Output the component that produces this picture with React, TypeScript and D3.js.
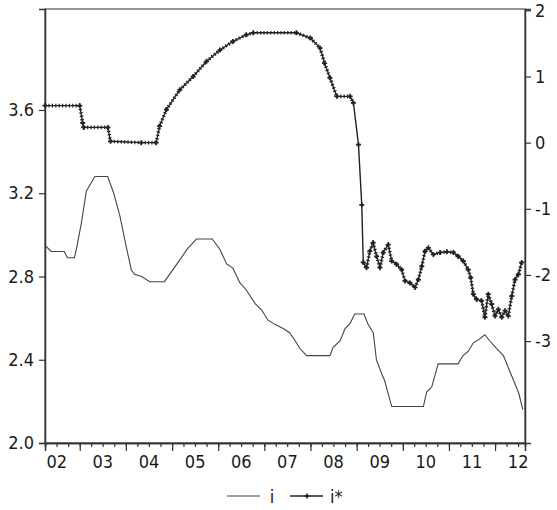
import React, { useEffect, useRef } from 'react';
import {
  select,
  scaleLinear,
  scaleTime,
  axisLeft,
  axisRight,
  axisBottom,
  timeYear,
  timeMonth,
  timeParse,
  line,
  symbol,
  symbolCross,
  pairs,
} from 'd3';

// i (left axis) — dates and values
const iDates = [
  '2002-04-01', '2002-05-20', '2002-09-01', '2002-09-25', '2002-11-20', '2002-12-05',
  '2003-01-15', '2003-02-22', '2003-05-01', '2003-08-10', '2003-09-27', '2003-11-15',
  '2004-01-05', '2004-02-14', '2004-03-10', '2004-05-05', '2004-07-08', '2004-11-02',
  '2004-12-12', '2005-03-03', '2005-05-05', '2005-07-13', '2005-11-15', '2006-01-15',
  '2006-03-08', '2006-04-27', '2006-06-21', '2006-08-11', '2006-10-20', '2006-12-10',
  '2007-01-30', '2007-03-25', '2007-05-30', '2007-07-20', '2007-08-29', '2007-10-08',
  '2007-12-01', '2008-06-03', '2008-06-28', '2008-08-22', '2008-10-01', '2008-11-10',
  '2008-12-16', '2009-02-28', '2009-04-01', '2009-05-12', '2009-06-06', '2009-07-16',
  '2009-08-10', '2009-10-05', '2010-06-13', '2010-07-09', '2010-08-18', '2010-10-08',
  '2011-03-14', '2011-04-23', '2011-06-02', '2011-07-12', '2011-09-02', '2011-10-12',
  '2011-11-21', '2012-01-12', '2012-03-07', '2012-04-16', '2012-05-27', '2012-07-06',
  '2012-08-08',
];
const iValues = [
  2.95, 2.92, 2.92, 2.89, 2.89, 2.93,
  3.06, 3.21, 3.28, 3.28, 3.2, 3.09,
  2.94, 2.83, 2.81, 2.8, 2.775, 2.775,
  2.81, 2.88, 2.935, 2.98, 2.98, 2.93,
  2.86, 2.84, 2.77, 2.735, 2.67, 2.64,
  2.59, 2.57, 2.55, 2.53, 2.495, 2.455,
  2.42, 2.42, 2.46, 2.49, 2.55, 2.575,
  2.62, 2.62, 2.57, 2.53, 2.4, 2.335,
  2.3, 2.175, 2.175, 2.245, 2.27, 2.38,
  2.38, 2.42, 2.44, 2.48, 2.5, 2.52,
  2.49, 2.455, 2.42, 2.36, 2.3, 2.24,
  2.16,
];

// i* (right axis)
const iStarDates = [
  '2002-04-01', '2003-01-01', '2003-01-24', '2003-02-01', '2003-08-12', '2003-09-01',
  '2004-05-01', '2004-08-28', '2004-09-24', '2004-11-17', '2005-03-03', '2005-06-17',
  '2005-10-01', '2006-01-15', '2006-04-27', '2006-08-11', '2006-10-05', '2007-09-12',
  '2008-01-01', '2008-03-17', '2008-04-22', '2008-06-03', '2008-07-27', '2008-11-10',
  '2008-12-06', '2009-01-15', '2009-02-10', '2009-02-22', '2009-03-20', '2009-04-15',
  '2009-05-11', '2009-06-08', '2009-07-04', '2009-07-30', '2009-09-08', '2009-10-05',
  '2009-11-13', '2009-12-23', '2010-01-18', '2010-02-27', '2010-04-08', '2010-05-04',
  '2010-05-31', '2010-06-26', '2010-07-22', '2010-08-30', '2010-10-23', '2010-12-15',
  '2011-02-05', '2011-03-16', '2011-04-25', '2011-06-03', '2011-06-22', '2011-07-13',
  '2011-08-08', '2011-09-17', '2011-10-13', '2011-11-08', '2011-12-05', '2012-01-01',
  '2012-01-27', '2012-02-23', '2012-03-20', '2012-04-15', '2012-05-12', '2012-06-07',
  '2012-07-04', '2012-07-30',
];
const iStarValues = [
  0.56, 0.56, 0.3, 0.23, 0.23, 0.02,
  0.0, 0.0, 0.25, 0.5, 0.8, 1.0,
  1.23, 1.4, 1.53, 1.63, 1.66, 1.66,
  1.58, 1.43, 1.2, 0.98, 0.7, 0.7,
  0.6, -0.03, -0.94, -1.81, -1.89, -1.64,
  -1.51, -1.72, -1.89, -1.66, -1.54, -1.79,
  -1.84, -1.92, -2.09, -2.12, -2.19, -2.07,
  -1.87, -1.64, -1.59, -1.69, -1.66, -1.65,
  -1.66, -1.72, -1.79, -1.92, -2.04, -2.29,
  -2.37, -2.39, -2.64, -2.29, -2.44, -2.62,
  -2.52, -2.64, -2.54, -2.62, -2.32, -2.07,
  -1.99, -1.81,
];

const leftTicks = [2.0, 2.4, 2.8, 3.2, 3.6];
const rightTicks = [-3, -2, -1, 0, 1, 2];
const yearLabels = ['02', '03', '04', '05', '06', '07', '08', '09', '10', '11', '12'];
const seriesNames = ['i', 'i*'];

const FONT = '"DejaVu Sans Condensed", "DejaVu Sans", sans-serif';

type Pt = { date: Date; v: number };

const renderChart = (svgEl: SVGSVGElement) => {
  const svg = select(svgEl);
  svg.selectAll('*').remove();

  const left = 45, right = 525, top = 9, bottom = 443;
  const parse = timeParse('%Y-%m-%d');

  const x = scaleTime()
    .domain([new Date(2002, 3, 1), new Date(2012, 7, 25)])
    .range([left, right]);
  const yL = scaleLinear().domain([2.0, 4.085]).range([bottom, top]);
  const yR = scaleLinear().domain([-4.54, 2.02]).range([bottom, top]);

  const iData: Pt[] = iDates.map((d, k) => ({ date: parse(d) as Date, v: iValues[k] }));
  const sData: Pt[] = iStarDates.map((d, k) => ({ date: parse(d) as Date, v: iStarValues[k] }));

  const styleText = (sel: any) =>
    sel.attr('font-family', FONT).attr('font-size', 18).attr('font-stretch', 'condensed').attr('fill', '#1a1a1a');

  // frame
  svg.append('rect')
    .attr('x', left).attr('y', top)
    .attr('width', right - left).attr('height', bottom - top)
    .attr('fill', 'none').attr('stroke', '#666').attr('stroke-width', 1.4);

  const gL = svg.append('g')
    .attr('transform', `translate(${left},0)`)
    .call(axisLeft(yL).tickValues(leftTicks).tickSize(6).tickPadding(5).tickFormat((d: any) => d.toFixed(1)));
  const gR = svg.append('g')
    .attr('transform', `translate(${right},0)`)
    .call(axisRight(yR).tickValues(rightTicks).tickSize(6).tickPadding(4).tickFormat((d: any) => String(d)));
  // quarterly minor ticks, yearly major ticks
  const gMinor = svg.append('g')
    .attr('transform', `translate(0,${bottom})`)
    .call(axisBottom(x).ticks(timeMonth.every(3)).tickSize(4).tickFormat(() => ''));
  const gMajor = svg.append('g')
    .attr('transform', `translate(0,${bottom})`)
    .call(axisBottom(x).ticks(timeYear.every(1)).tickSize(8).tickFormat(() => ''));

  [gL, gR, gMinor, gMajor].forEach(g => {
    g.select('.domain').attr('stroke', '#333').attr('stroke-width', 1.5);
    g.selectAll('.tick line').attr('stroke', '#333').attr('stroke-width', 1.2);
    styleText(g.selectAll('text'));
  });

  // year labels centred on each calendar year
  styleText(
    svg.append('g').selectAll('text').data(yearLabels).enter().append('text')
      .attr('x', d => (x(new Date(2000 + +d, 0, 1)) + x(new Date(2001 + +d, 0, 1))) / 2)
      .attr('y', 468)
      .attr('text-anchor', 'middle')
      .text(d => d)
  );

  const iLine = line<Pt>().x(d => x(d.date)).y(d => yL(d.v));
  const sLine = line<Pt>().x(d => x(d.date)).y(d => yR(d.v));

  svg.append('path').datum(iData)
    .attr('d', iLine).attr('fill', 'none')
    .attr('stroke', '#444').attr('stroke-width', 1.1);

  svg.append('path').datum(sData)
    .attr('d', sLine).attr('fill', 'none')
    .attr('stroke', '#222').attr('stroke-width', 1.4);

  // dense marker texture on i*, left off the big near-vertical drop
  const segs = pairs(sData).filter(([a, b]) => {
    const dx = Math.abs(x(b.date) - x(a.date));
    const dy = Math.abs(yR(b.v) - yR(a.v));
    return !(dy > 35 && dy > 3 * dx);
  });
  svg.append('g').selectAll('path').data(segs).enter().append('path')
    .attr('d', d => sLine(d as Pt[]) as string)
    .attr('fill', 'none')
    .attr('stroke', '#222').attr('stroke-width', 3.6)
    .attr('stroke-dasharray', '1.2 2.2');

  svg.append('g').selectAll('path').data(sData).enter().append('path')
    .attr('transform', d => `translate(${x(d.date)},${yR(d.v)})`)
    .attr('d', symbol().type(symbolCross).size(14)() as string)
    .attr('fill', '#222');

  // legend
  const legend = svg.append('g');
  legend.append('line').attr('x1', 227).attr('x2', 260).attr('y1', 496).attr('y2', 496)
    .attr('stroke', '#444').attr('stroke-width', 1.1);
  styleText(legend.append('text').attr('x', 272).attr('y', 503).attr('text-anchor', 'middle').text(seriesNames[0]));
  legend.append('line').attr('x1', 290).attr('x2', 323).attr('y1', 496).attr('y2', 496)
    .attr('stroke', '#222').attr('stroke-width', 1.3);
  legend.append('path').attr('transform', 'translate(307,496)')
    .attr('d', symbol().type(symbolCross).size(14)() as string).attr('fill', '#222');
  styleText(legend.append('text').attr('x', 330).attr('y', 503).text(seriesNames[1]));
};

const App = () => {
  const ref = useRef<SVGSVGElement>(null);
  useEffect(() => {
    if (ref.current) renderChart(ref.current);
  }, []);
  return (
    <svg
      ref={ref}
      width={557}
      height={510}
      style={{ position: 'absolute', left: 0, top: 0, background: '#fff' }}
    />
  );
};

export default App;
